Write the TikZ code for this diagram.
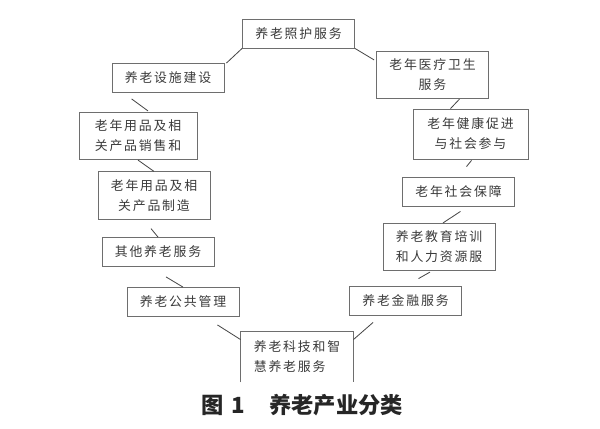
\documentclass[tikz,border=0pt]{standalone}
\usepackage{fontspec}
\usepackage{tikz}
\usepackage{xcolor}
\newfontfamily\cjk[LetterSpace=14]{Noto Sans CJK SC}
\newfontfamily\cjkcap{Noto Sans CJK SC}
\definecolor{boxline}{HTML}{6E6E6E}
\definecolor{linkline}{HTML}{474747}
\definecolor{boxtext}{HTML}{3A3A3A}

\begin{document}
\begin{tikzpicture}[
        x=0.03cm, y=-0.03cm, line width=0.7pt,
        box/.style={draw=boxline, rectangle, inner sep=2pt, minimum width=3.36cm,
          minimum height=0.87cm, align=center, text=boxtext,
          font=\cjk\fontsize{11}{17}\selectfont},
        tallbox/.style={box, minimum height=1.42cm},
        link/.style={draw=linkline}
      ]
        \useasboundingbox (0,0) rectangle (600,429);
        % left side
        \node[box] (zhaohu) at (298.5,33.5) {养老照护服务};
        \node[box] (sheshi) at (168,78) {养老设施建设};
        \node[tallbox, minimum width=3.54cm] (xiaoshou) at (138,136) {老年用品及相\\关产品销售和};
        \node[tallbox] (zhizao) at (154,195.5) {老年用品及相\\关产品制造};
        \node[box] (qita) at (158,252) {其他养老服务};
        \node[box] (gonggong) at (183,302) {养老公共管理};
        \node[tallbox, draw=none, align=left, minimum height=1.5cm] (keji) at (297,357) {养老科技和智\\慧养老服务};
        % right side
        \node[tallbox] (yiliao) at (432.5,75) {老年医疗卫生\\服务};
        \node[tallbox, minimum width=3.45cm, minimum height=1.5cm] (jiankang) at (470.5,134) {老年健康促进\\与社会参与};
        \node[box] (baozhang) at (458.5,191.5) {老年社会保障};
        \node[tallbox] (jiaoyu) at (439,247) {养老教育培训\\和人力资源服};
        \node[box] (jinrong) at (405.5,300.5) {养老金融服务};
        % bottom box is cut off by the caption
        \draw[boxline] (keji.south west) -- (keji.north west) -- (keji.north east) -- (keji.south east);
        \node[font=\cjkcap\bfseries\fontsize{19}{21}\selectfont, text=black!85] (caption) at (302,405) {图\hspace{0.35em}1\hspace{1.1em}养老产业分类};

        \draw[link] (zhaohu.south west) -- ([shift={(2,0)}]sheshi.north east);
        \draw[link] ([shift={(20,6)}]sheshi.south west) -- ([shift={(10,-1)}]xiaoshou.north);
        \draw[link] (xiaoshou.south) -- (zhizao.north);
        \draw[link] ([shift={(-3,9)}]zhizao.south) -- (qita.north);
        \draw[link] ([shift={(8,10)}]qita.south) -- (gonggong.north);
        \draw[link] ([shift={(-22,8)}]gonggong.south east) -- ([shift={(0,8)}]keji.north west);
        \draw[link] (zhaohu.south east) -- ([shift={(-2,9)}]yiliao.north west);
        \draw[link] ([shift={(27,0)}]yiliao.south) -- ([shift={(-20,0)}]jiankang.north);
        \draw[link] ([shift={(1,1)}]jiankang.south) -- ([shift={(8,-10)}]baozhang.north);
        \draw[link] ([shift={(2,5)}]baozhang.south) -- ([shift={(4,0)}]jiaoyu.north);
        \draw[link] ([shift={(-9,1)}]jiaoyu.south) -- ([shift={(13,-7)}]jinrong.north);
        \draw[link] ([shift={(24,7)}]jinrong.south west) -- ([shift={(0,8)}]keji.north east);
      \end{tikzpicture}
\end{document}
